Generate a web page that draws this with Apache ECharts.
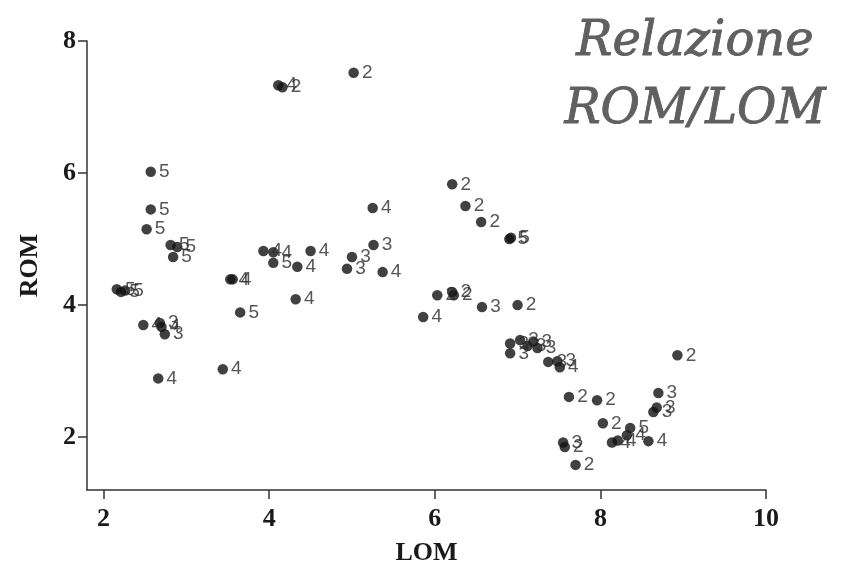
<!DOCTYPE html>
<html>
<head>
<meta charset="utf-8">
<script src="https://cdn.jsdelivr.net/npm/echarts@6/dist/echarts.min.js"></script>
<style>html,body{margin:0;padding:0;background:#fff;}#c{width:843px;height:567px;}</style>
</head>
<body>
<div id="c"></div>
<script>
// Data
const lom = [2.57,2.57,2.52,2.81,2.89,2.84,2.16,2.21,2.26,2.48,2.68,2.70,2.74,2.66,3.44,3.53,3.56,3.65,3.93,4.05,4.05,4.34,4.50,4.32,5.00,4.94,5.26,5.25,5.37,4.11,4.16,5.02,6.21,6.37,6.56,6.90,6.92,6.03,6.21,6.23,5.86,6.57,7.00,6.91,6.91,7.03,7.12,7.19,7.24,7.37,7.48,7.51,7.62,7.96,8.03,8.14,8.21,8.32,8.36,8.58,7.55,7.57,7.70,8.70,8.68,8.64,8.93];
const rom = [6.02,5.45,5.15,4.91,4.88,4.73,4.24,4.20,4.22,3.70,3.73,3.67,3.56,2.89,3.03,4.39,4.39,3.89,4.82,4.80,4.64,4.58,4.82,4.09,4.73,4.55,4.91,5.47,4.50,7.33,7.30,7.52,5.83,5.50,5.26,5.00,5.02,4.15,4.20,4.15,3.82,3.97,4.00,3.42,3.27,3.47,3.38,3.45,3.35,3.14,3.15,3.06,2.61,2.56,2.21,1.92,1.95,2.03,2.14,1.94,1.92,1.85,1.58,2.67,2.45,2.38,3.24];
const grp = ['5','5','5','5','5','5','5','5','5','4','3','4','3','4','4','4','4','5','4','4','5','4','4','4','3','3','3','4','4','4','2','2','2','2','2','5','5','2','2','2','4','3','2','3','3','3','3','3','3','3','3','4','2','2','2','4','4','4','5','4','3','2','2','3','3','3','2'];
const xTicks = [2,4,6,8,10];
const yTicks = [2,4,6,8];
const titleLines = ['Relazione','ROM/LOM'];
const xName = 'LOM', yName = 'ROM';

const points = lom.map((x,i)=>({value:[x, rom[i]], label:{formatter: grp[i]}}));

const serifBold = {fontFamily:'Liberation Serif', fontWeight:'bold', color:'#1a1a1a'};
const chart = echarts.init(document.getElementById('c'), null, {renderer:'canvas'});
chart.setOption({
  animation:false,
  backgroundColor:'#ffffff',
  title:{
    text: titleLines.join('\n'),
    left: 690, top: 4,
    textAlign:'center',
    textStyle:{fontFamily:'DejaVu Serif', fontStyle:'italic', fontWeight:'normal', fontSize:48, lineHeight:68, color:'#606060', align:'center', textBorderColor:'#606060', textBorderWidth:0.9}
  },
  grid:{left:87, right:77, top:41, bottom:77, containLabel:false, outerBoundsMode:'none'},
  xAxis:{
    type:'value', min:1.8, max:10,
    name:xName, nameLocation:'middle', nameGap:50,
    nameTextStyle:Object.assign({fontSize:26}, serifBold),
    axisLine:{show:true, lineStyle:{color:'#333', width:1.5}},
    axisTick:{show:true, length:9, customValues:xTicks, lineStyle:{color:'#333', width:1.5}},
    axisLabel:Object.assign({customValues:xTicks, margin:16, fontSize:26}, serifBold),
    splitLine:{show:false}
  },
  yAxis:{
    type:'value', min:1.2, max:8,
    name:yName, nameLocation:'middle', nameGap:44, nameRotate:90,
    nameTextStyle:Object.assign({fontSize:26}, serifBold),
    axisLine:{show:true, lineStyle:{color:'#333', width:1.5}},
    axisTick:{show:true, length:9, customValues:yTicks, lineStyle:{color:'#333', width:1.5}},
    axisLabel:Object.assign({customValues:yTicks, margin:11, fontSize:26}, serifBold),
    splitLine:{show:false}
  },
  series:[{
    type:'scatter',
    data:points,
    symbol:'circle',
    symbolSize:10.5,
    itemStyle:{color:'#111'},
    label:{show:true, position:'right', distance:3, fontFamily:'Liberation Sans', fontSize:19, color:'#2a2a2a'},
    labelLayout:{hideOverlap:false}
  }]
});
</script>
</body>
</html>
